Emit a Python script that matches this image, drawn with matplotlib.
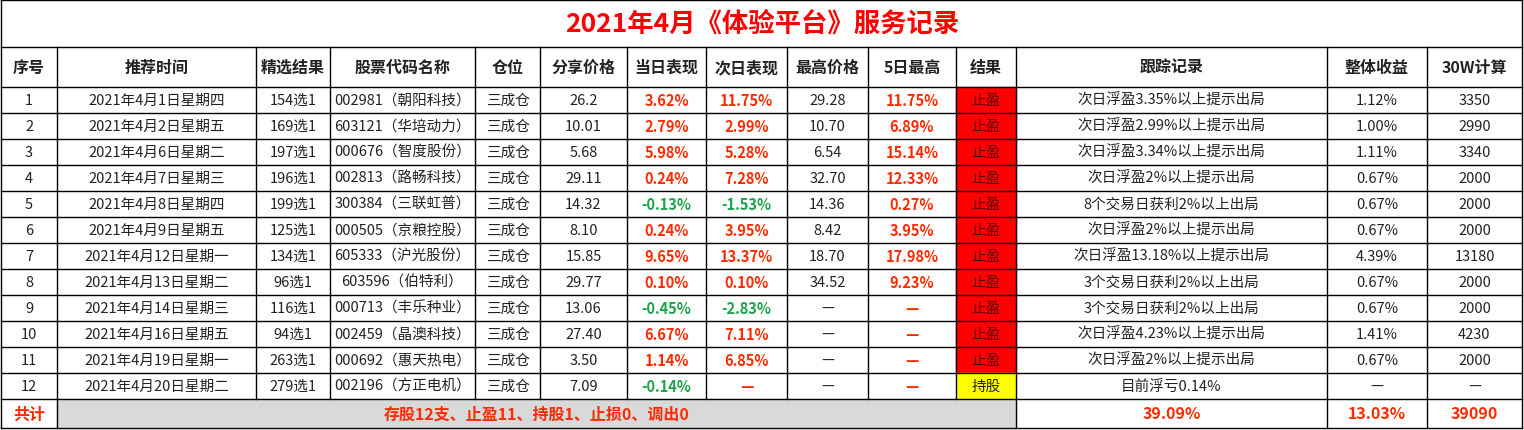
import matplotlib.pyplot as plt
from matplotlib.patches import Rectangle

plt.rcParams['font.family'] = ['Noto Sans CJK SC', 'DejaVu Sans']

title = '2021年4月《体验平台》服务记录'
headers = ['序号', '推荐时间', '精选结果', '股票代码名称', '仓位', '分享价格', '当日表现', '次日表现',
           '最高价格', '5日最高', '结果', '跟踪记录', '整体收益', '30W计算']
dates = ['2021年4月1日星期四', '2021年4月2日星期五', '2021年4月6日星期二', '2021年4月7日星期三',
         '2021年4月8日星期四', '2021年4月9日星期五', '2021年4月12日星期一', '2021年4月13日星期二',
         '2021年4月14日星期三', '2021年4月16日星期五', '2021年4月19日星期一', '2021年4月20日星期二']
picks = ['154选1', '169选1', '197选1', '196选1', '199选1', '125选1', '134选1', '96选1',
         '116选1', '94选1', '263选1', '279选1']
stocks = ['002981（朝阳科技）', '603121（华培动力）', '000676（智度股份）', '002813（路畅科技）',
          '300384（三联虹普）', '000505（京粮控股）', '605333（沪光股份）', '603596（伯特利）',
          '000713（丰乐种业）', '002459（晶澳科技）', '000692（惠天热电）', '002196（方正电机）']
prices = ['26.2', '10.01', '5.68', '29.11', '14.32', '8.10', '15.85', '29.77', '13.06', '27.40', '3.50', '7.09']
day1 = ['3.62%', '2.79%', '5.98%', '0.24%', '-0.13%', '0.24%', '9.65%', '0.10%', '-0.45%', '6.67%', '1.14%', '-0.14%']
day2 = ['11.75%', '2.99%', '5.28%', '7.28%', '-1.53%', '3.95%', '13.37%', '0.10%', '-2.83%', '7.11%', '6.85%', '—']
highs = ['29.28', '10.70', '6.54', '32.70', '14.36', '8.42', '18.70', '34.52', '—', '—', '—', '—']
high5 = ['11.75%', '6.89%', '15.14%', '12.33%', '0.27%', '3.95%', '17.98%', '9.23%', '—', '—', '—', '—']
results = ['止盈'] * 11 + ['持股']
tracks = ['次日浮盈3.35%以上提示出局', '次日浮盈2.99%以上提示出局', '次日浮盈3.34%以上提示出局',
          '次日浮盈2%以上提示出局', '8个交易日获利2%以上出局', '次日浮盈2%以上提示出局',
          '次日浮盈13.18%以上提示出局', '3个交易日获利2%以上出局', '3个交易日获利2%以上出局',
          '次日浮盈4.23%以上提示出局', '次日浮盈2%以上提示出局', '目前浮亏0.14%']
gains = ['1.12%', '1.00%', '1.11%', '0.67%', '0.67%', '0.67%', '4.39%', '0.67%', '0.67%', '1.41%', '0.67%', '—']
calc30 = ['3350', '2990', '3340', '2000', '2000', '2000', '13180', '2000', '2000', '4230', '2000', '—']
total_text = '存股12支、止盈11、持股1、止损0、调出0'
total_gain, total_avg, total_calc = '39.09%', '13.03%', '39090'

xs = [1, 57, 256, 330, 475, 540, 627, 706, 787, 868, 956, 1016, 1327, 1427, 1522]
y_title, y_head, y_rows, rh, y_tot, y_end = 1, 48, 88, 26, 400, 429

RED, GREEN, TXT = '#ff2a00', '#1aa34a', '#222222'

fig = plt.figure(figsize=(15.24, 4.31), dpi=100)
ax = fig.add_axes([0, 0, 1, 1])
ax.set_xlim(0, 1524)
ax.set_ylim(431, 0)
ax.axis('off')

def cell(ci, y, txt, color=TXT, bold=False, bg=None, h=rh, c2=None, fs=10.5):
    x0 = xs[ci]
    x1 = xs[c2 if c2 is not None else ci + 1]
    if bg:
        ax.add_patch(Rectangle((x0, y), x1 - x0, h, color=bg, zorder=0))
    ax.text((x0 + x1) / 2, y + h / 2, txt, ha='center', va='center', fontsize=fs,
            color=color, fontweight='bold' if bold else 'normal')

def pct_color(s):
    if s == '—':
        return RED
    return GREEN if s.startswith('-') else RED

ax.text(762, 24, title, ha='center', va='center', fontsize=19, fontweight='bold', color='#ff0000')
for i, h in enumerate(headers):
    cell(i, y_head, h, bold=True, h=y_rows - y_head, fs=11.5)

for r in range(12):
    y = y_rows + r * rh
    cell(0, y, str(r + 1))
    cell(1, y, dates[r])
    cell(2, y, picks[r])
    cell(3, y, stocks[r])
    cell(4, y, '三成仓')
    cell(5, y, prices[r])
    cell(6, y, day1[r], pct_color(day1[r]), True)
    cell(7, y, day2[r], pct_color(day2[r]), True)
    cell(8, y, highs[r])
    cell(9, y, high5[r], pct_color(high5[r]), True)
    cell(10, y, results[r], '#5a0000' if results[r] == '止盈' else TXT,
         bg='#ff0000' if results[r] == '止盈' else '#ffff00')
    cell(11, y, tracks[r])
    cell(12, y, gains[r])
    cell(13, y, calc30[r])

th = y_end - y_tot
cell(0, y_tot, '共计', RED, True, h=th, fs=11.5)
ax.add_patch(Rectangle((xs[1], y_tot), xs[11] - xs[1], th, color='#d9d9d9', zorder=0))
cell(1, y_tot, total_text, RED, True, h=th, c2=11, fs=11.5)
cell(11, y_tot, total_gain, RED, True, h=th, fs=11.5)
cell(12, y_tot, total_avg, RED, True, h=th, fs=11.5)
cell(13, y_tot, total_calc, RED, True, h=th, fs=11.5)

lw = 1.0
hl = [y_title, y_head, y_rows] + [y_rows + r * rh for r in range(1, 12)] + [y_tot, y_end]
for y in hl:
    ax.plot([xs[0], xs[-1]], [y, y], color='black', lw=lw)
ax.plot([xs[0], xs[0]], [y_title, y_end], color='black', lw=lw)
ax.plot([xs[-1], xs[-1]], [y_title, y_end], color='black', lw=lw)
for i, x in enumerate(xs[1:-1], start=1):
    ax.plot([x, x], [y_head, y_tot], color='black', lw=lw)
    if i in (1, 11, 12, 13):
        ax.plot([x, x], [y_tot, y_end], color='black', lw=lw)

fig.savefig('out.png', dpi=100)
